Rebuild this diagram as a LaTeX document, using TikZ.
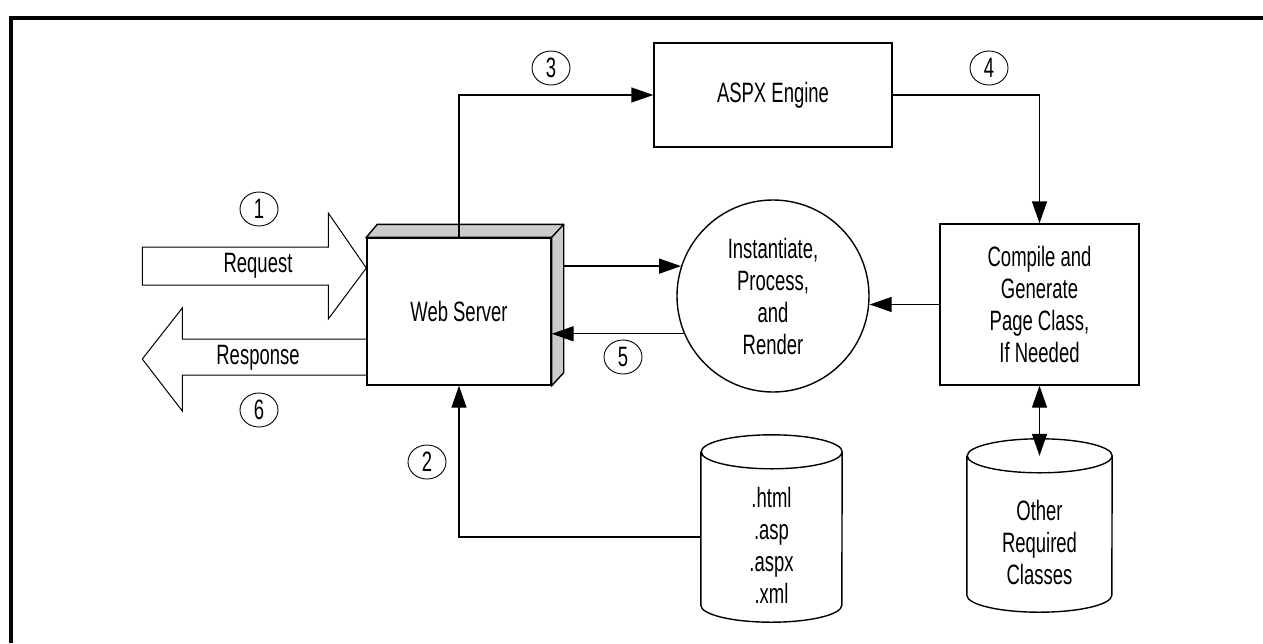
\documentclass[tikz,border=0pt]{standalone}
\usepackage{fontspec}
\setmainfont{Liberation Sans}[FakeStretch=0.66]
\usetikzlibrary{arrows.meta,shapes.geometric}

% outline of a data store round a node: name, x radius, y radius
\newcommand\dbshape[3]{%
  \draw[link] ([yshift=#3]#1.north west) -- ([yshift=#3]#1.south west)
    arc[start angle=180, end angle=360, x radius=#2, y radius=#3]
    -- ([yshift=#3]#1.north east)
    arc[start angle=0, end angle=180, x radius=#2, y radius=#3]
    arc[start angle=180, end angle=360, x radius=#2, y radius=#3];
}

\begin{document}
\begin{tikzpicture}[
        x=1pt, y=-1pt,
        every node/.style={font=\fontsize{28}{32}\selectfont},
        box/.style={draw, line width=1.4pt, align=center, inner sep=0pt},
        num/.style={draw, ellipse, line width=0.9pt, minimum width=38pt, minimum height=34pt, inner sep=0pt},
        db/.style={align=center, inner sep=0pt},
        link/.style={line width=1.4pt},
        arrow/.style={-{Triangle[length=22pt,width=15pt]}, link},
        darrow/.style={{Triangle[length=22pt,width=15pt]}-{Triangle[length=22pt,width=15pt]}, link},
        bigarrow/.style={line width=1pt, line join=miter}
        ]
        \useasboundingbox (0,0) rectangle (1263,643);
        \draw[line width=3.5pt] (11,643) -- (11,18) -- (1263,18);

        % boxes
        \node[box, minimum width=184pt, minimum height=147pt] (web) at (459,311.5) {Web Server};
        \node[box, minimum width=238pt, minimum height=104pt] (aspx) at (773,95) {ASPX Engine};
        \node[box, minimum width=199pt, minimum height=161pt] (comp) at (1039.5,304.5)
            {Compile and\\Generate\\Page Class,\\If Needed};
        \node[box, circle, minimum size=192pt] (proc) at (773,296)
            {Instantiate,\\Process,\\and\\Render};
        \node[db, minimum width=141pt, minimum height=153pt] (db1) at (771.5,545.5)
            {.html\\.asp\\.aspx\\.xml};
        \node[db, minimum width=145pt, minimum height=139pt] (db2) at (1039.5,542.5)
            {Other\\Required\\Classes};
        \dbshape{db1}{70.5pt}{17pt}
        \dbshape{db2}{72.5pt}{17pt}

        % 3D sides of the web server
        \coordinate (webR) at ([xshift=12pt]web.east);
        \draw[link, fill=gray!40] (web.north west) -- ++(11,-13) -- ([shift={(12pt,13pt)}]web.north east)
            -- ([shift={(12pt,13pt)}]web.south east) -- (web.south east) -- (web.north east) -- cycle;
        \draw[link] (web.north east) -- ++(12,-13);

        % request and response
        \draw[bigarrow] ([yshift=43.5pt]web.west) -- ++(-38,-55) -- ++(0,34) -- ++(-186,0)
            -- ++(0,38) -- ++(186,0) -- ++(0,34) -- cycle;
        \draw[bigarrow] ([yshift=-27.5pt]web.west) -- ++(-184,0) -- ++(0,-31) -- ++(-40,51)
            -- ++(40,52) -- ++(0,-36) -- ++(184,0);
        \node (req) at (258,266) {Request};
        \node (resp) at (258,358) {Response};

        % connectors
        \draw[arrow] (web.north) |- (aspx.west);
        \draw[arrow] (aspx.east) -| (comp.north);
        \draw[arrow] (proc.162 -| webR) -- (proc.162);
        \draw[arrow] (proc.203) -- (proc.203 -| web.east);
        \draw[arrow] (comp.west) -- (comp.west -| proc.east);
        \draw[arrow] ([yshift=8.5pt]db1.west) -| (web.south);
        \draw[darrow] (comp.south) -- ([yshift=17pt]db2.north);

        % step numbers
        \foreach \i/\p in {1/{259,209}, 2/{427,462}, 3/{551,68}, 4/{989,68}, 5/{623,357}, 6/{259,410}} {
            \node[num] (n\i) at (\p) {\i};
        }
    \end{tikzpicture}
\end{document}
